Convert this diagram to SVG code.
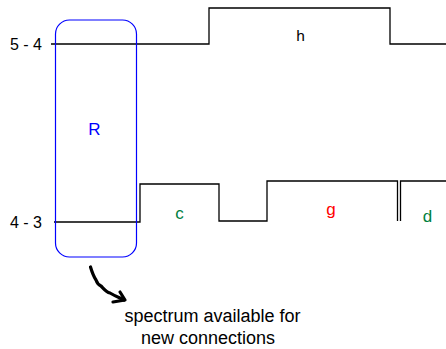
<svg xmlns="http://www.w3.org/2000/svg" width="446" height="349" viewBox="0 0 446 349">
<style>
.ln{fill:none;stroke:#000;stroke-width:1.3}
.t{font-family:"Liberation Sans",Arial,sans-serif;font-size:17px;text-anchor:middle}
.lbl{font-family:"Liberation Sans",Arial,sans-serif;font-size:16px}
.note{font-family:"Liberation Sans",Arial,sans-serif;font-size:18px;text-anchor:middle}
</style>
<rect width="446" height="349" fill="#fff"/>
<g id="connectors">
<polyline class="ln" points="51,44 209,44 209,8 390,8 390,44 446,44"/>
<polyline class="ln" points="54,222 140,222 140,184 219,184 219,221 267,221 267,181 397.5,181 397.5,221"/>
<polyline class="ln" points="400.5,221 400.5,181 446,181"/>
<path d="M90.5,267 C92,272 94,277 96,280 C97,283 99,285 101,286 C104,289 106,292 110,293 C115,296 120,298 124,300" fill="none" stroke="#000" stroke-width="3.2" stroke-linecap="round"/>
<path d="M113,302 L125,300 L120,292" fill="none" stroke="#000" stroke-width="3.2" stroke-linecap="round" stroke-linejoin="round"/>
</g>
<g id="label-54"><text class="lbl" x="10" y="49.5">5 - 4</text></g>
<g id="label-43"><text class="lbl" x="10" y="228">4 - 3</text></g>
<g id="R">
<rect x="55.5" y="20" width="81" height="237" rx="14" ry="14" fill="none" stroke="#0000ff" stroke-width="1.2"/>
<text class="t" x="94.5" y="134.5" fill="#0000ff">R</text>
</g>
<g id="h"><text class="t" x="300.5" y="40.5" style="font-size:15.5px">h</text></g>
<g id="c"><text class="t" x="179.5" y="219" fill="#008040">c</text></g>
<g id="g"><text class="t" x="331" y="215" fill="#ff0000">g</text></g>
<g id="d"><text class="t" x="427.5" y="221.5" fill="#008040">d</text></g>
<g id="note">
<text class="note" x="212.5" y="322">spectrum available for</text>
<text class="note" x="208" y="344">new connections</text>
</g>
</svg>
